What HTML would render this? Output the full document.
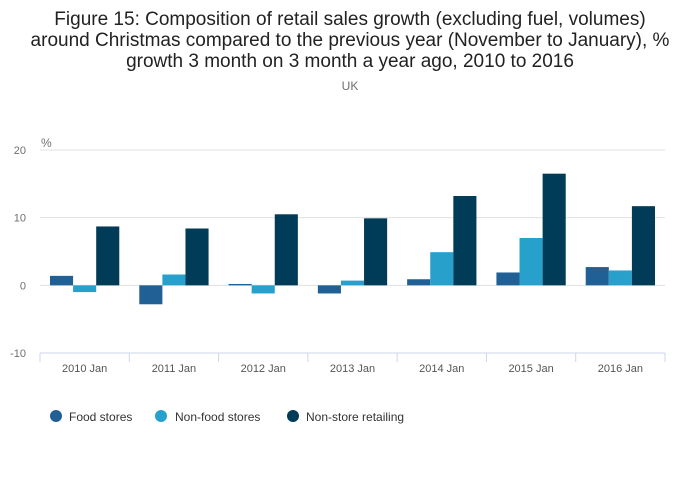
<!DOCTYPE html>
<html><head><meta charset="utf-8"><style>
body{margin:0;background:#fff;font-family:"Liberation Sans","DejaVu Sans",sans-serif}
svg{display:block}
</style></head><body>
<svg width="700" height="502" id="c">
<text x="350" y="25" text-anchor="middle" font-size="19" fill="#222">Figure 15: Composition of retail sales growth (excluding fuel, volumes)</text>
<text x="350" y="46" text-anchor="middle" font-size="19" fill="#222">around Christmas compared to the previous year (November to January), %</text>
<text x="350" y="67" text-anchor="middle" font-size="19" fill="#222">growth 3 month on 3 month a year ago, 2010 to 2016</text>
<text x="350" y="90" text-anchor="middle" font-size="12" fill="#707070">UK</text>
<text x="41" y="147" font-size="12" fill="#707070">%</text>
<g id="grid"></g><g id="bars"></g><g id="xaxis"></g>
<g>
<circle cx="56" cy="416" r="6" fill="#206095"/>
<text x="69" y="421" font-size="12" fill="#333">Food stores</text>
<circle cx="161" cy="416" r="6" fill="#27a0cc"/>
<text x="175" y="421" font-size="12" fill="#333">Non-food stores</text>
<circle cx="293" cy="416" r="6" fill="#003c57"/>
<text x="306" y="421" font-size="12" fill="#333">Non-store retailing</text>
</g>
</svg>
<script>
const categories=["2010 Jan","2011 Jan","2012 Jan","2013 Jan","2014 Jan","2015 Jan","2016 Jan"];
const foodStores=[1.4,-2.8,0.2,-1.2,0.9,1.9,2.7];
const nonFoodStores=[-1.0,1.6,-1.2,0.7,4.9,7.0,2.2];
const nonStoreRetailing=[8.7,8.4,10.5,9.9,13.2,16.5,11.7];
const yTicks=[20,10,0,-10];
const NS="http://www.w3.org/2000/svg";
const x0=40,x1=665,yTop=150,yBot=353,vMax=20,vMin=-10;
const y=v=>yTop+(vMax-v)*(yBot-yTop)/(vMax-vMin);
const bw=(x1-x0)/categories.length;
function mk(t,a,p){const e=document.createElementNS(NS,t);for(const k in a)e.setAttribute(k,a[k]);p.appendChild(e);return e;}
const grid=document.getElementById('grid'),bars=document.getElementById('bars'),xa=document.getElementById('xaxis');
yTicks.forEach(t=>{
 if(t>vMin){const l=mk('line',{x1:x0,x2:x1,y1:y(t),y2:y(t),stroke:'#e0e0e0'},grid);
 
 }
 const tx=mk('text',{x:26,y:y(t)+4,'text-anchor':'end','font-size':11,fill:'#707070'},grid);
 tx.textContent=t;
 
 
});
const series=[[foodStores,'#206095','food'],[nonFoodStores,'#27a0cc','nonfood'],[nonStoreRetailing,'#003c57','nonstore']];
const pad=bw*0.112,w=(bw-2*pad)/3;
categories.forEach((c,i)=>{
 const gx=x0+i*bw;
 series.forEach((s,j)=>{
  const v=s[0][i];
  const r=mk('rect',{x:gx+pad+j*w,width:w,y:Math.min(y(v),y(0)),height:Math.abs(y(v)-y(0)),fill:s[1]},bars);
  
  
 });
 const tl=mk('text',{x:gx+bw/2,y:372,'text-anchor':'middle','font-size':11,fill:'#555'},xa);
 tl.textContent=c;
 
 
});
for(let i=0;i<=categories.length;i++){
 const t=mk('line',{x1:x0+i*bw,x2:x0+i*bw,y1:yBot,y2:yBot+9,stroke:'#ccd6e8'},xa);
 
 
}
const ax=mk('line',{x1:x0,x2:x1,y1:yBot,y2:yBot,stroke:'#ccd6e8'},xa);


</script>
</body></html>
